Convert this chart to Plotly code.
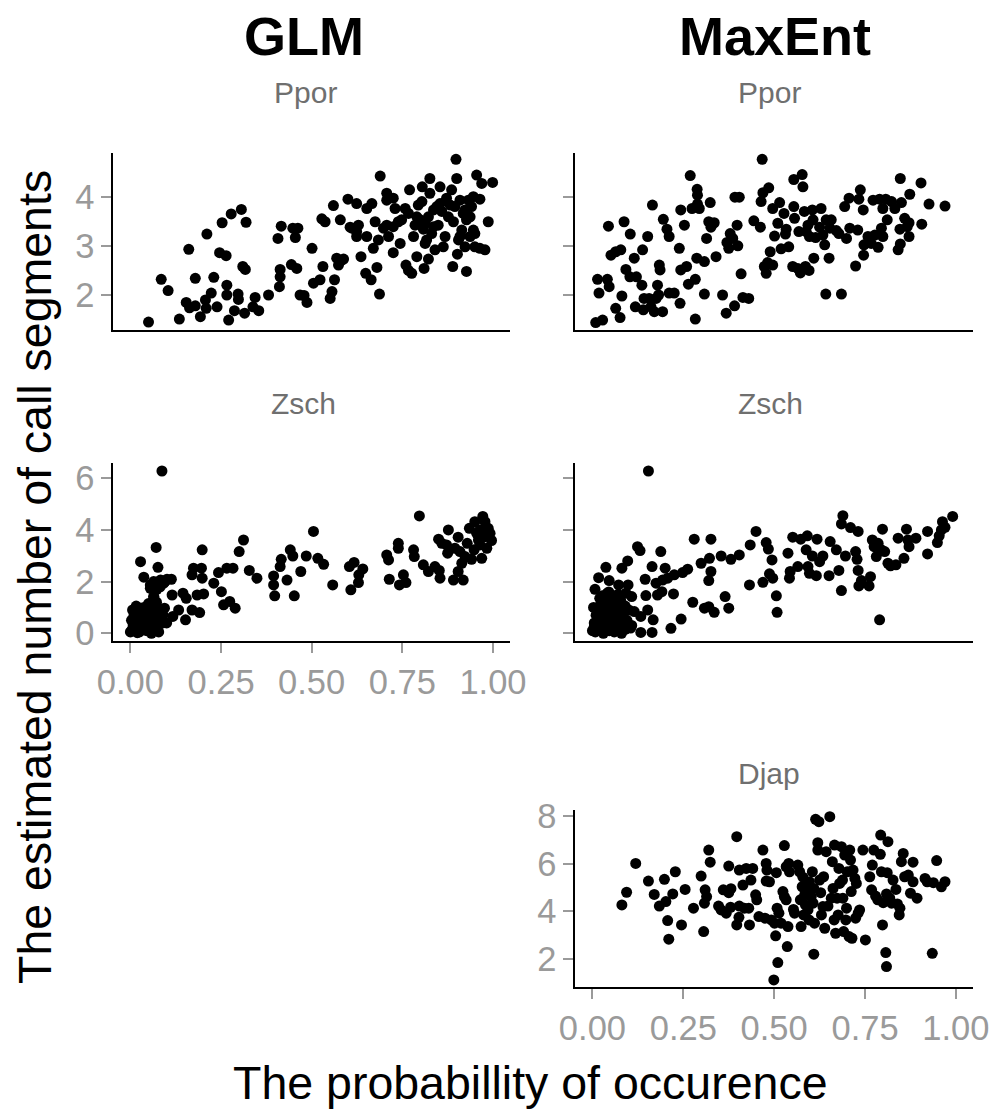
import plotly.graph_objects as go

# ---------------- data (probability of occurrence, estimated number of call segments) -------------
glm_ppor = [
    (0.05, 1.45), (0.085, 2.32), (0.104, 2.09), (0.135, 1.51), (0.154, 1.85), (0.161, 2.93),
    (0.163, 1.74), (0.179, 2.34), (0.179, 1.78), (0.193, 1.56), (0.207, 1.90), (0.211, 3.24),
    (0.209, 1.73), (0.223, 2.04), (0.230, 2.36), (0.239, 1.76), (0.246, 2.86), (0.253, 3.47),
    (0.264, 2.80), (0.266, 2.20), (0.266, 2.00), (0.271, 1.49), (0.278, 3.65), (0.287, 1.68),
    (0.297, 2.02), (0.298, 1.91), (0.306, 3.74), (0.310, 2.58), (0.315, 1.63), (0.319, 3.48),
    (0.317, 2.52), (0.338, 1.76), (0.344, 1.95), (0.354, 1.68), (0.381, 2.00), (0.407, 3.15),
    (0.413, 2.52), (0.411, 2.17), (0.413, 2.37), (0.416, 3.40), (0.444, 2.62), (0.448, 3.36),
    (0.455, 3.17), (0.459, 2.54), (0.462, 3.36), (0.468, 2.00), (0.487, 1.85), (0.479, 1.99),
    (0.501, 2.95), (0.505, 2.24), (0.523, 2.31), (0.531, 2.58), (0.528, 3.55), (0.537, 3.49),
    (0.551, 1.93), (0.556, 2.07), (0.560, 3.82), (0.563, 2.31), (0.569, 2.75), (0.574, 2.61),
    (0.579, 3.53), (0.588, 2.73), (0.600, 3.95), (0.606, 3.38), (0.624, 3.86), (0.629, 3.42),
    (0.624, 3.19), (0.636, 2.78), (0.649, 2.44), (0.652, 3.76), (0.666, 3.86), (0.664, 2.31),
    (0.670, 2.95), (0.675, 3.49), (0.680, 2.56), (0.687, 2.02), (0.689, 4.42), (0.684, 3.12),
    (0.698, 3.36), (0.707, 4.07), (0.707, 3.93), (0.712, 3.19), (0.725, 2.86), (0.725, 3.97),
    (0.730, 3.76), (0.725, 3.39), (0.739, 3.49), (0.744, 3.05), (0.748, 3.53), (0.760, 2.61),
    (0.767, 2.50), (0.770, 4.14), (0.776, 2.44), (0.758, 3.76), (0.767, 3.66), (0.781, 3.19),
    (0.785, 3.42), (0.790, 2.78), (0.794, 3.83), (0.799, 3.53), (0.804, 3.90), (0.805, 4.20),
    (0.808, 3.34), (0.810, 2.54), (0.813, 3.05), (0.822, 2.73), (0.826, 4.37), (0.826, 4.07),
    (0.822, 3.59), (0.831, 3.25), (0.836, 3.73), (0.840, 2.92), (0.849, 3.42), (0.854, 4.20),
    (0.854, 3.86), (0.863, 2.98), (0.868, 3.19), (0.872, 3.97), (0.877, 3.59), (0.886, 4.14),
    (0.889, 2.58), (0.891, 3.49), (0.895, 3.80), (0.898, 4.76), (0.900, 4.37), (0.902, 2.83),
    (0.905, 3.12), (0.909, 3.93), (0.914, 3.32), (0.918, 3.66), (0.923, 2.98), (0.927, 2.48),
    (0.927, 3.53), (0.932, 3.93), (0.937, 3.19), (0.941, 3.80), (0.946, 3.32), (0.950, 2.98),
    (0.955, 4.44), (0.964, 3.95), (0.969, 4.27), (0.964, 2.95), (0.978, 2.92), (0.987, 3.49),
    (0.999, 4.29), (0.790, 3.59), (0.813, 3.46), (0.836, 3.39), (0.845, 3.80), (0.859, 3.70),
    (0.882, 3.83), (0.923, 3.73), (0.937, 3.59), (0.950, 3.25), (0.817, 3.12), (0.909, 3.19),
    (0.707, 3.42), (0.652, 3.19), (0.624, 3.29), (0.611, 3.36), (0.581, 2.70), (0.946, 4.00),
]

maxent_ppor = [
    (0.009, 1.44), (0.028, 1.49), (0.014, 2.32), (0.018, 2.04), (0.041, 2.32), (0.046, 2.17),
    (0.044, 3.40), (0.051, 2.81), (0.064, 2.88), (0.078, 2.92), (0.064, 1.73), (0.076, 1.54),
    (0.081, 1.98), (0.087, 3.49), (0.092, 2.52), (0.103, 2.37), (0.104, 3.24), (0.115, 2.75),
    (0.118, 1.76), (0.121, 2.37), (0.136, 2.20), (0.138, 2.92), (0.142, 1.93), (0.140, 1.70),
    (0.152, 3.19), (0.156, 1.93), (0.161, 1.76), (0.165, 3.83), (0.170, 1.66), (0.175, 1.93),
    (0.179, 2.20), (0.182, 2.00), (0.184, 2.61), (0.186, 2.51), (0.193, 1.66), (0.195, 3.54),
    (0.205, 3.34), (0.211, 3.19), (0.211, 2.04), (0.225, 2.04), (0.241, 1.83), (0.239, 2.95),
    (0.243, 3.73), (0.243, 2.51), (0.253, 3.42), (0.259, 2.58), (0.264, 2.22), (0.269, 4.43),
    (0.274, 3.76), (0.283, 2.32), (0.283, 1.51), (0.287, 2.75), (0.288, 4.15), (0.289, 4.03),
    (0.289, 3.85), (0.294, 3.76), (0.308, 2.68), (0.308, 2.02), (0.314, 3.15), (0.320, 3.49),
    (0.324, 3.88), (0.326, 3.38), (0.335, 3.47), (0.340, 2.78), (0.358, 2.00), (0.368, 1.63),
    (0.370, 3.07), (0.375, 2.95), (0.379, 3.25), (0.386, 3.15), (0.391, 1.78), (0.392, 3.99),
    (0.400, 3.00), (0.404, 3.99), (0.398, 3.42), (0.409, 2.43), (0.414, 1.95), (0.430, 1.93),
    (0.444, 3.51), (0.462, 3.38), (0.464, 3.90), (0.467, 4.76), (0.469, 4.08), (0.473, 2.58),
    (0.478, 2.44), (0.482, 2.66), (0.485, 4.18), (0.489, 2.88), (0.496, 2.61), (0.496, 3.76),
    (0.501, 3.20), (0.510, 3.46), (0.515, 3.88), (0.519, 2.94), (0.527, 3.66), (0.531, 3.24),
    (0.533, 3.34), (0.540, 2.98), (0.551, 2.58), (0.554, 3.80), (0.556, 3.56), (0.554, 4.35),
    (0.565, 2.54), (0.568, 3.29), (0.572, 2.45), (0.577, 4.45), (0.579, 4.20), (0.583, 3.70),
    (0.586, 2.58), (0.588, 3.29), (0.593, 3.42), (0.596, 2.50), (0.597, 3.19), (0.605, 3.73),
    (0.607, 3.53), (0.609, 2.75), (0.614, 3.17), (0.625, 3.38), (0.629, 3.76), (0.634, 3.22),
    (0.639, 3.02), (0.642, 2.02), (0.643, 3.53), (0.651, 2.75), (0.653, 3.36), (0.657, 3.53),
    (0.671, 3.31), (0.678, 3.25), (0.685, 2.02), (0.694, 3.80), (0.699, 3.15), (0.706, 3.97),
    (0.708, 3.36), (0.724, 2.59), (0.730, 3.32), (0.733, 3.95), (0.737, 4.14), (0.745, 3.73),
    (0.746, 2.81), (0.747, 3.02), (0.758, 3.19), (0.767, 3.05), (0.772, 3.93), (0.777, 3.22),
    (0.786, 2.97), (0.790, 3.95), (0.795, 3.36), (0.799, 3.76), (0.799, 3.19), (0.807, 3.95),
    (0.811, 3.53), (0.823, 3.90), (0.832, 3.76), (0.841, 2.92), (0.846, 3.34), (0.847, 4.37),
    (0.847, 3.04), (0.850, 3.88), (0.859, 3.56), (0.866, 3.39), (0.871, 3.19), (0.873, 4.05),
    (0.871, 3.47), (0.904, 4.28), (0.906, 3.44), (0.926, 3.85), (0.970, 3.81),
]

glm_zsch = [
    (0.087, 6.28), (0.028, 2.77), (0.037, 2.17), (0.071, 3.32), (0.076, 2.55), (0.055, 1.87),
    (0.064, 2.00), (0.083, 2.06), (0.092, 1.94), (0.101, 2.09), (0.113, 2.09), (0.094, 0.97),
    (0.087, 0.39), (0.115, 1.48), (0.117, 0.65), (0.133, 0.90), (0.145, 1.55), (0.154, 1.35),
    (0.152, 0.52), (0.170, 2.26), (0.174, 2.52), (0.170, 0.90), (0.184, 1.48), (0.191, 0.80),
    (0.196, 2.52), (0.198, 2.13), (0.198, 3.23), (0.202, 1.52), (0.230, 1.94), (0.243, 2.35),
    (0.251, 1.61), (0.257, 1.10), (0.266, 2.52), (0.274, 1.23), (0.283, 2.52), (0.289, 0.97),
    (0.300, 3.16), (0.312, 3.61), (0.328, 2.43), (0.349, 2.13), (0.395, 2.22), (0.395, 1.87),
    (0.398, 1.45), (0.413, 2.58), (0.416, 2.86), (0.432, 2.06), (0.441, 3.23), (0.448, 2.99),
    (0.452, 1.45), (0.470, 2.39), (0.485, 2.99), (0.505, 3.94), (0.517, 2.90), (0.533, 2.67),
    (0.558, 1.87), (0.604, 2.58), (0.608, 1.68), (0.617, 2.74), (0.629, 1.96), (0.630, 2.26),
    (0.641, 2.49), (0.707, 3.03), (0.712, 2.84), (0.714, 2.09), (0.739, 3.48), (0.739, 3.29),
    (0.742, 1.87), (0.753, 2.26), (0.760, 1.96), (0.781, 3.23), (0.783, 2.97), (0.797, 4.54),
    (0.808, 2.65), (0.822, 2.39), (0.840, 2.58), (0.850, 3.64), (0.852, 2.43), (0.854, 2.13),
    (0.859, 3.48), (0.872, 3.42), (0.875, 3.10), (0.877, 4.00), (0.891, 2.06), (0.895, 3.29),
    (0.904, 3.72), (0.904, 2.39), (0.909, 3.16), (0.914, 2.71), (0.918, 2.06), (0.923, 2.97),
    (0.929, 3.48), (0.935, 4.06), (0.941, 2.86), (0.948, 3.23), (0.950, 4.32), (0.955, 3.87),
    (0.960, 3.61), (0.964, 3.42), (0.969, 2.90), (0.972, 4.52), (0.973, 4.00), (0.975, 3.72),
    (0.983, 3.29), (0.987, 4.06), (0.992, 3.87), (0.996, 3.59), (0.978, 4.32), (0.964, 4.00),
    (0.055, 1.74), (0.064, 1.42),
    (0.000, 0.05), (0.005, 0.15), (0.008, 0.30), (0.010, 0.45), (0.012, 0.10), (0.015, 0.60),
    (0.018, 0.25), (0.020, 0.80), (0.022, 0.40), (0.025, 0.05), (0.027, 0.95), (0.030, 0.55),
    (0.032, 0.20), (0.035, 0.70), (0.037, 1.00), (0.040, 0.35), (0.042, 0.85), (0.045, 0.10),
    (0.047, 0.60), (0.050, 1.15), (0.052, 0.45), (0.055, 0.75), (0.057, 0.25), (0.060, 1.05),
    (0.062, 0.50), (0.065, 1.40), (0.067, 0.85), (0.070, 0.30), (0.072, 1.20), (0.075, 0.65),
    (0.078, 0.05), (0.080, 0.95), (0.085, 0.40), (0.090, 0.70), (0.003, 0.50), (0.006, 0.90),
    (0.016, 1.05), (0.024, 0.65), (0.033, 0.15), (0.043, 0.45), (0.058, 0.00), (0.068, 0.15),
    (0.048, 0.25), (0.028, 0.35), (0.038, 0.55), (0.019, 0.02), (0.010, 0.70), (0.053, 0.90),
    (0.063, 1.25), (0.073, 1.70), (0.066, 1.85), (0.082, 1.80), (0.095, 2.00), (0.100, 0.40),
]

maxent_zsch = [
    (0.154, 6.28), (0.005, 0.26), (0.007, 1.70), (0.017, 2.15), (0.037, 2.55), (0.020, 1.35),
    (0.046, 2.04), (0.041, 1.55), (0.069, 1.23), (0.072, 1.87), (0.081, 2.52), (0.097, 2.80),
    (0.098, 1.87), (0.092, 1.55), (0.108, 1.42), (0.115, 0.84), (0.108, 0.30), (0.124, 3.35),
    (0.131, 3.20), (0.133, 0.65), (0.133, 0.03), (0.145, 2.09), (0.147, 1.46), (0.152, 0.90),
    (0.164, 2.58), (0.164, 0.03), (0.167, 0.52), (0.175, 1.94), (0.179, 1.48), (0.188, 3.16),
    (0.191, 1.61), (0.193, 2.06), (0.200, 2.52), (0.207, 2.13), (0.216, 0.19), (0.223, 1.52),
    (0.225, 2.26), (0.244, 0.55), (0.248, 2.35), (0.262, 2.48), (0.276, 1.20), (0.280, 3.64),
    (0.299, 2.71), (0.308, 0.97), (0.320, 1.03), (0.320, 2.04), (0.322, 2.90), (0.326, 3.64),
    (0.326, 2.39), (0.335, 0.81), (0.354, 2.99), (0.365, 1.42), (0.375, 0.97), (0.381, 2.86),
    (0.404, 3.03), (0.432, 1.87), (0.434, 3.42), (0.450, 3.94), (0.469, 1.97), (0.478, 3.51),
    (0.484, 3.26), (0.487, 2.30), (0.494, 2.84), (0.496, 2.13), (0.506, 1.45), (0.508, 0.81),
    (0.538, 3.10), (0.542, 2.13), (0.544, 2.39), (0.551, 3.72), (0.565, 2.58), (0.573, 3.64),
    (0.588, 3.23), (0.591, 3.77), (0.593, 2.58), (0.597, 2.32), (0.605, 2.99), (0.616, 2.23),
    (0.618, 3.64), (0.625, 2.77), (0.634, 2.99), (0.651, 2.23), (0.654, 3.55), (0.671, 3.23),
    (0.678, 2.43), (0.685, 1.65), (0.685, 4.23), (0.689, 4.55), (0.696, 2.99), (0.710, 4.09),
    (0.724, 3.16), (0.728, 2.86), (0.731, 3.94), (0.731, 2.43), (0.733, 1.83), (0.740, 2.04),
    (0.761, 1.83), (0.765, 2.19), (0.770, 3.61), (0.775, 3.35), (0.781, 2.97), (0.786, 3.48),
    (0.790, 0.52), (0.795, 3.23), (0.798, 4.03), (0.804, 3.16), (0.813, 2.71), (0.820, 2.61),
    (0.835, 2.65), (0.841, 3.68), (0.857, 2.90), (0.864, 4.03), (0.871, 3.35), (0.868, 3.61),
    (0.890, 3.68), (0.922, 3.94), (0.922, 3.07), (0.949, 3.51), (0.954, 3.77), (0.960, 4.00),
    (0.963, 4.32), (0.970, 4.10), (0.991, 4.52),
    (0.000, 0.10), (0.005, 0.40), (0.008, 0.05), (0.010, 0.70), (0.013, 0.20), (0.015, 0.95),
    (0.018, 0.50), (0.020, 0.15), (0.022, 1.10), (0.025, 0.35), (0.028, 0.75), (0.030, 0.00),
    (0.032, 0.55), (0.035, 1.30), (0.038, 0.25), (0.040, 0.90), (0.043, 0.45), (0.046, 0.10),
    (0.048, 1.15), (0.050, 0.60), (0.053, 0.30), (0.056, 0.80), (0.060, 0.05), (0.062, 1.00),
    (0.065, 0.40), (0.068, 0.70), (0.072, 0.20), (0.075, 0.55), (0.078, 1.25), (0.080, 0.00),
    (0.083, 0.35), (0.087, 0.85), (0.090, 0.15), (0.095, 0.50), (0.003, 1.00), (0.027, 1.45),
    (0.045, 1.60), (0.058, 1.40), (0.070, 1.50), (0.100, 0.90), (0.105, 0.20), (0.090, 1.05),
]

maxent_djap = [
    (0.081, 4.27), (0.094, 4.80), (0.119, 6.01), (0.154, 5.27), (0.170, 4.71), (0.184, 4.22),
    (0.198, 5.34), (0.202, 4.41), (0.207, 3.61), (0.210, 2.83), (0.221, 4.73), (0.228, 5.66),
    (0.245, 3.43), (0.255, 4.92), (0.278, 4.13), (0.299, 5.48), (0.306, 3.15), (0.310, 4.90),
    (0.308, 4.34), (0.314, 4.62), (0.320, 6.57), (0.324, 6.06), (0.347, 4.22), (0.354, 4.06),
    (0.360, 4.90), (0.368, 3.92), (0.375, 5.90), (0.375, 4.78), (0.380, 4.17), (0.381, 4.95),
    (0.397, 7.13), (0.397, 3.43), (0.403, 3.75), (0.404, 5.73), (0.404, 4.22), (0.414, 5.10),
    (0.418, 4.13), (0.423, 5.80), (0.430, 4.13), (0.432, 3.43), (0.436, 5.31), (0.441, 5.80),
    (0.449, 4.69), (0.452, 4.48), (0.458, 3.78), (0.469, 6.57), (0.475, 3.71), (0.478, 6.01),
    (0.480, 5.73), (0.478, 5.27), (0.487, 5.24), (0.492, 3.64), (0.501, 3.50), (0.504, 2.97),
    (0.506, 5.62), (0.508, 4.13), (0.510, 1.85), (0.499, 1.12), (0.513, 3.92), (0.519, 3.50),
    (0.528, 6.76), (0.524, 4.83), (0.528, 4.62), (0.533, 5.87), (0.533, 4.48), (0.536, 2.52),
    (0.538, 3.36), (0.540, 6.01), (0.542, 5.66), (0.553, 4.08), (0.556, 3.92), (0.565, 5.94),
    (0.570, 5.66), (0.572, 4.48), (0.574, 3.36), (0.577, 5.03), (0.579, 5.43), (0.581, 3.85),
    (0.584, 4.69), (0.586, 4.27), (0.590, 4.96), (0.593, 4.06), (0.596, 3.64), (0.597, 5.24),
    (0.602, 4.62), (0.605, 5.66), (0.607, 4.34), (0.609, 2.20), (0.609, 4.96), (0.611, 3.50),
    (0.614, 7.86), (0.620, 6.88), (0.620, 6.57), (0.623, 7.76), (0.625, 5.31), (0.628, 4.78),
    (0.630, 3.85), (0.634, 4.20), (0.636, 5.45), (0.639, 3.29), (0.643, 6.50), (0.648, 4.22),
    (0.653, 7.97), (0.657, 4.55), (0.660, 6.08), (0.662, 4.96), (0.665, 3.64), (0.666, 6.78),
    (0.669, 3.08), (0.673, 4.55), (0.676, 3.85), (0.678, 5.80), (0.680, 5.17), (0.685, 6.71),
    (0.688, 5.31), (0.689, 4.55), (0.691, 3.15), (0.694, 6.36), (0.697, 3.64), (0.699, 4.13),
    (0.701, 5.66), (0.706, 2.94), (0.708, 6.57), (0.710, 6.15), (0.712, 4.83), (0.714, 2.87),
    (0.717, 5.73), (0.722, 5.38), (0.724, 3.71), (0.726, 5.17), (0.731, 3.92), (0.735, 4.06),
    (0.744, 6.57), (0.751, 2.80), (0.763, 5.45), (0.768, 4.90), (0.770, 5.94), (0.774, 6.57),
    (0.779, 4.64), (0.785, 4.48), (0.792, 6.39), (0.793, 7.20), (0.795, 5.66), (0.798, 3.43),
    (0.800, 4.36), (0.807, 2.27), (0.809, 1.68), (0.809, 4.73), (0.811, 5.62), (0.813, 6.92),
    (0.818, 4.55), (0.823, 4.34), (0.827, 5.31), (0.835, 4.92), (0.839, 4.31), (0.844, 3.85),
    (0.846, 4.13), (0.850, 6.08), (0.855, 6.43), (0.859, 5.45), (0.869, 5.52), (0.875, 4.76),
    (0.882, 6.06), (0.882, 5.24), (0.893, 4.55), (0.915, 5.38), (0.921, 5.24), (0.935, 2.24),
    (0.938, 5.20), (0.947, 6.13), (0.960, 5.03), (0.970, 5.24),
]

column_titles = ["GLM", "MaxEnt"]
species = ["Ppor", "Zsch", "Djap"]
x_ticks = [0.0, 0.25, 0.5, 0.75, 1.0]
x_tick_labels = ["0.00", "0.25", "0.50", "0.75", "1.00"]
row_y_ticks = [[2, 3, 4], [0, 2, 4, 6], [2, 4, 6, 8]]
row_y_ranges = [[1.288, 4.895], [-0.30, 6.59], [0.825, 8.25]]
x_title = "The probabillity of occurence"
y_title = "The estimated number of call segments"

# ---------------- layout geometry -------------------------------------------------------------
W, H = 1005, 1109
FONT = "Liberation Sans, Arial, Helvetica, sans-serif"
TICK_GREY = "#9a9a9a"
STRIP_GREY = "#6f6f6f"

col_px = [(113, 510), (575, 973)]
row_px = [(152.7, 330), (463, 641), (810, 987)]


def xdom(c):
    a, b = col_px[c]
    return [a / W, b / W]


def ydom(r):
    t, b = row_px[r]
    return [1 - b / H, 1 - t / H]


# panel specs: (data, column, row, show x labels, show y labels)
panels = [
    (glm_ppor, 0, 0, False, True),
    (maxent_ppor, 1, 0, False, False),
    (glm_zsch, 0, 1, True, True),
    (maxent_zsch, 1, 1, False, False),
    (maxent_djap, 1, 2, True, True),
]

fig = go.Figure()
layout_axes = {}
for i, (pts, c, r, showx, showy) in enumerate(panels, start=1):
    xs = [p[0] for p in pts]
    ys = [p[1] for p in pts]
    suffix = "" if i == 1 else str(i)
    fig.add_trace(go.Scatter(
        x=xs, y=ys, mode="markers",
        marker=dict(size=11, color="black", line=dict(width=0)),
        xaxis="x" + suffix, yaxis="y" + suffix, showlegend=False,
        hoverinfo="skip",
    ))
    layout_axes["xaxis" + suffix] = dict(
        domain=xdom(c), anchor="y" + suffix, range=[-0.048, 1.047],
        showline=True, linecolor="black", linewidth=1.6, mirror=False,
        showgrid=False, zeroline=False, automargin=False,
        ticks="outside" if showx else "", ticklen=10, tickwidth=2, tickcolor=TICK_GREY,
        tickvals=x_ticks, ticktext=x_tick_labels, showticklabels=showx,
        tickfont=dict(family=FONT, size=34.5, color=TICK_GREY),
    )
    layout_axes["yaxis" + suffix] = dict(
        domain=ydom(r), anchor="x" + suffix, range=row_y_ranges[r],
        showline=True, linecolor="black", linewidth=1.6, mirror=False,
        showgrid=False, zeroline=False, automargin=False,
        ticks="outside", ticklen=10, tickwidth=2, tickcolor=TICK_GREY,
        tickvals=row_y_ticks[r], showticklabels=showy,
        tickfont=dict(family=FONT, size=34.5, color=TICK_GREY),
    )

annotations = []
# column titles
for txt, xc in zip(column_titles, [304, 775]):
    annotations.append(dict(
        text="<b>%s</b>" % txt, x=xc / W, y=1 - 36 / H, xref="paper", yref="paper",
        xanchor="center", yanchor="middle", showarrow=False,
        font=dict(family=FONT, size=54, color="black"),
    ))
# strip labels
strips = [("Ppor", 305, 92), ("Ppor", 769, 92), ("Zsch", 303, 403),
          ("Zsch", 770, 403), ("Djap", 769, 773)]
for txt, xc, yc in strips:
    annotations.append(dict(
        text=txt, x=xc / W, y=1 - yc / H, xref="paper", yref="paper",
        xanchor="center", yanchor="middle", showarrow=False,
        font=dict(family=FONT, size=30, color=STRIP_GREY),
    ))
# axis titles
annotations.append(dict(
    text=x_title, x=530 / W, y=1 - 1083 / H, xref="paper", yref="paper",
    xanchor="center", yanchor="middle", showarrow=False,
    font=dict(family=FONT, size=46.5, color="black"),
))
annotations.append(dict(
    text=y_title, x=35 / W, y=1 - 577 / H, xref="paper", yref="paper",
    xanchor="center", yanchor="middle", showarrow=False, textangle=-90,
    font=dict(family=FONT, size=46.5, color="black"),
))

fig.update_layout(
    template="none",
    width=W, height=H, margin=dict(l=0, r=0, t=0, b=0, pad=0, autoexpand=False),
    paper_bgcolor="white", plot_bgcolor="white",
    annotations=annotations, **layout_axes,
)

# remove the browser's default 8px body margin so the figure sits at the page origin
fig.write_html(
    "out.html",
    config={"displayModeBar": False, "staticPlot": True},
    post_script="document.body.style.margin='0';document.body.style.overflow='hidden';",
)
